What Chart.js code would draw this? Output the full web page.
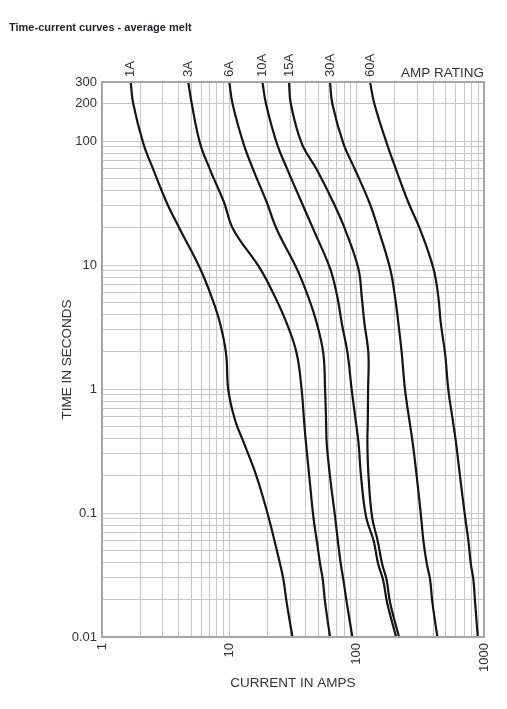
<!DOCTYPE html>
<html>
<head>
<meta charset="utf-8">
<script src="https://cdn.jsdelivr.net/npm/chart.js@4"></script>
<style>
  body { margin: 0; background: #fff; }
  canvas { display: block; }
</style>
</head>
<body>
<canvas id="fuse-chart" width="507" height="709"></canvas>
<script>
// amp ratings, one curve each
const ratings = ["1A", "3A", "6A", "10A", "15A", "30A", "60A"];
// melting time (s), shared by all the curves
const times = [300, 200, 96, 59, 32, 19.4, 9.4, 5.5, 3.4, 1.94, 0.98, 0.56, 0.365, 0.196, 0.093, 0.06, 0.039, 0.029, 0.019, 0.01];
// current (A) at those times
const amps1A = [1.68, 1.76, 2.11, 2.53, 3.22, 4.1, 5.89, 7.27, 8.45, 9.42, 9.82, 11.1, 13.05, 16.4, 20.3, 22.6, 25.0, 26.6, 28.2, 31.3];
const amps3A = [4.76, 5.07, 5.89, 7.05, 9.09, 10.75, 17.4, 22.9, 28.2, 33.8, 37.0, 38.6, 40.0, 42.5, 45.7, 48.6, 51.6, 54.2, 56.5, 61.8];
const amps6A = [10.0, 10.6, 12.9, 15.4, 19.7, 23.6, 33.8, 41.8, 48.6, 54.7, 56.5, 57.5, 58.2, 61.8, 67.7, 71.1, 75.0, 78.6, 83.6, 92.5];
const amps10A = [18.2, 19.4, 23.6, 28.6, 37.0, 45.7, 61.8, 70.6, 76.4, 84.8, 91.5, 98.2, 103.5, 108.3, 118.6, 135.8, 147.3, 161.2, 173.3, 204];
const amps15A = [29.4, 30.4, 37.0, 48.6, 65.6, 81.1, 103.1, 109.7, 115, 123.6, 122.9, 122.3, 121.4, 124, 132.1, 146, 158.3, 171.8, 183, 215];
const amps30A = [61.8, 64.4, 78.6, 97.1, 125.8, 148.1, 183, 200.3, 212.6, 226.1, 240, 259.4, 275.8, 296.6, 320.6, 334.2, 355.4, 377.3, 393.3, 430.5];
const amps60A = [127.4, 137.7, 172.4, 204, 254.8, 314.8, 400.5, 438.3, 457.7, 494.7, 525.1, 568.6, 603.6, 649, 710.4, 754.1, 787.6, 825.5, 851.3, 894];
// which tick values get a label
const xLabels = [1, 10, 100, 1000];
const yLabels = [0.01, 0.1, 1, 10, 100, 200, 300];

const ampSeries = [amps1A, amps3A, amps6A, amps10A, amps15A, amps30A, amps60A];
const canvas = document.getElementById("fuse-chart");

Chart.defaults.font.family = "'Liberation Sans', Arial, sans-serif";
Chart.defaults.color = "#333";

// 1,2,...,9 per decade between min and max
function logTicks(min, max) {
  const out = [];
  for (let e = -3; e <= 4; e++) {
    for (let m = 1; m <= 9; m++) {
      const v = Number((m * Math.pow(10, e)).toPrecision(6));
      if (v >= min && v <= max) out.push({ value: v });
    }
  }
  return out;
}

const extras = {
  id: "extras",
  afterDatasetsDraw(chart) {
    const { ctx, chartArea } = chart;
    ctx.save();
    // frame
    ctx.strokeStyle = "#a6a6a6";
    ctx.lineWidth = 2;
    ctx.strokeRect(chartArea.left, chartArea.top, chartArea.right - chartArea.left, chartArea.bottom - chartArea.top);

    // rating labels above each curve
    ctx.fillStyle = "#333";
    ctx.font = "13px 'Liberation Sans', Arial, sans-serif";
    ctx.textAlign = "left";
    ctx.textBaseline = "middle";
    chart.data.datasets.forEach((ds, i) => {
      const pt = chart.getDatasetMeta(i).data[0];
      ctx.save();
      ctx.translate(pt.x, chartArea.top - 5);
      ctx.rotate(-Math.PI / 2);
      ctx.fillText(ds.label, 0, 0);
      ctx.restore();
    });

    ctx.font = "13.5px 'Liberation Sans', Arial, sans-serif";
    ctx.textAlign = "right";
    ctx.textBaseline = "alphabetic";
    ctx.fillText("AMP RATING", chartArea.right, 77);

    ctx.fillStyle = "#1d2230";
    ctx.font = "bold 11px 'Liberation Sans', Arial, sans-serif";
    ctx.textAlign = "left";
    ctx.fillText("Time-current curves - average melt", 9, 31);
    ctx.restore();
  },
};

new Chart(canvas, {
  type: "line",
  data: {
    datasets: ratings.map((label, i) => ({
      label: label,
      data: times.map((t, j) => ({ x: ampSeries[i][j], y: t })),
      borderColor: "#141414",
      borderWidth: 2.2,
      pointRadius: 0,
      fill: false,
      tension: 0.4,
    })),
  },
  options: {
    responsive: false,
    animation: false,
    indexAxis: "y",
    layout: { padding: { left: 0, right: 23, top: 82, bottom: 0 } },
    plugins: {
      legend: { display: false },
      tooltip: { enabled: false },
    },
    scales: {
      x: {
        type: "logarithmic",
        position: "bottom",
        min: 1,
        max: 1000,
        afterBuildTicks: (s) => { s.ticks = logTicks(1, 1000); },
        afterFit: (s) => { s.height = 72; },
        grid: { color: "#c8c8c8", drawTicks: false },
        border: { display: false },
        ticks: {
          autoSkip: false,
          minRotation: 90,
          maxRotation: 90,
          padding: 6,
          font: { size: 13 },
          callback: (v) => (xLabels.includes(v) ? String(v) : ""),
        },
        title: {
          display: true,
          text: "CURRENT IN AMPS",
          font: { size: 13.5 },
          padding: { top: 0, bottom: 18 },
        },
      },
      y: {
        type: "logarithmic",
        position: "left",
        min: 0.01,
        max: 300,
        afterBuildTicks: (s) => { s.ticks = logTicks(0.01, 300); },
        afterFit: (s) => { s.width = 102; },
        grid: { color: "#c8c8c8", drawTicks: false },
        border: { display: false },
        ticks: {
          autoSkip: false,
          padding: 5,
          font: { size: 13 },
          callback: (v) => (yLabels.includes(v) ? String(v) : ""),
        },
        title: {
          display: true,
          text: "TIME IN SECONDS",
          font: { size: 13.5 },
          padding: { top: 59, bottom: 0 },
        },
      },
    },
  },
  plugins: [extras],
});
</script>
</body>
</html>
